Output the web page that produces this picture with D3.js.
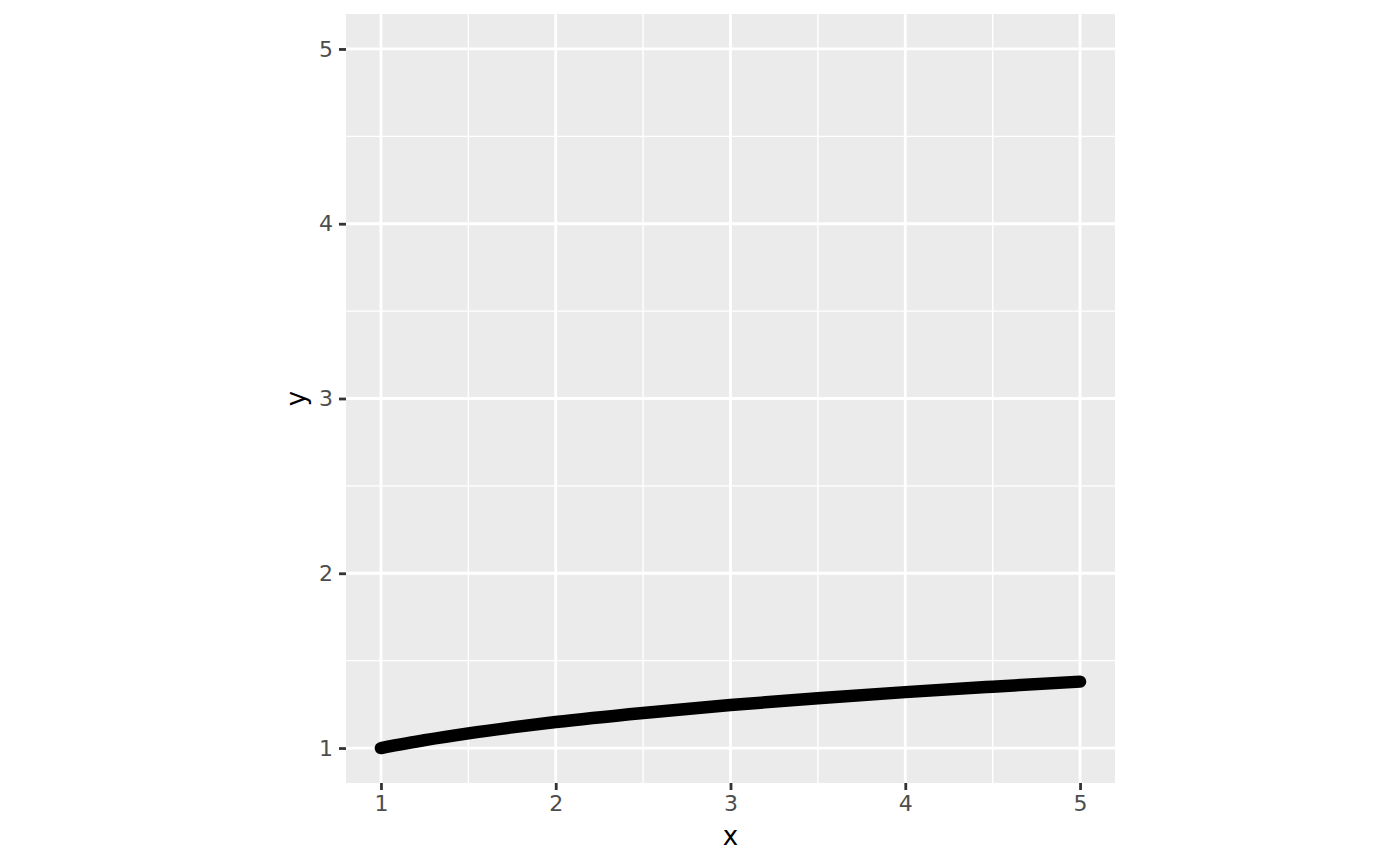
<!DOCTYPE html>
<html>
<head>
<meta charset="utf-8">
<script src="https://cdn.jsdelivr.net/npm/d3@7"></script>
<style>
  body { margin: 0; background: #fff; }
  text { font-family: "DejaVu Sans", sans-serif; }
</style>
</head>
<body>
<div id="chart"></div>
<script>
// values
let xValues = [1, 1.25, 1.5, 1.75, 2, 2.5, 3, 3.5, 4, 4.5, 5];
let yValues = [1.0, 1.045, 1.084, 1.118, 1.149, 1.201, 1.246, 1.285, 1.32, 1.351, 1.38];
let xTicks = [1, 2, 3, 4, 5];
let yTicks = [1, 2, 3, 4, 5];
let minorTicks = [1.5, 2.5, 3.5, 4.5];

let points = xValues.map(function(d, i) { return {x: d, y: yValues[i]}; });

let width = 1400, height = 866;
let panel = {left: 346, top: 14, right: 1115, bottom: 783};

let svg = d3.select("#chart").append("svg")
  .attr("width", width)
  .attr("height", height);

let x = d3.scaleLinear().domain([0.8, 5.2]).range([panel.left, panel.right]);
let y = d3.scaleLinear().domain([0.8, 5.2]).range([panel.bottom, panel.top]);

svg.append("rect")
  .attr("x", panel.left).attr("y", panel.top)
  .attr("width", panel.right - panel.left)
  .attr("height", panel.bottom - panel.top)
  .attr("fill", "#EBEBEB");

let grid = svg.append("g");
// minor grid
minorTicks.forEach(function(t) {
  grid.append("line").attr("x1", x(t)).attr("x2", x(t))
    .attr("y1", panel.top).attr("y2", panel.bottom)
    .attr("stroke", "#fff").attr("stroke-width", 1.4);
  grid.append("line").attr("y1", y(t)).attr("y2", y(t))
    .attr("x1", panel.left).attr("x2", panel.right)
    .attr("stroke", "#fff").attr("stroke-width", 1.4);
});
// major grid
xTicks.forEach(function(t) {
  grid.append("line").attr("x1", x(t)).attr("x2", x(t))
    .attr("y1", panel.top).attr("y2", panel.bottom)
    .attr("stroke", "#fff").attr("stroke-width", 2.8);
});
yTicks.forEach(function(t) {
  grid.append("line").attr("y1", y(t)).attr("y2", y(t))
    .attr("x1", panel.left).attr("x2", panel.right)
    .attr("stroke", "#fff").attr("stroke-width", 2.8);
});

let line = d3.line()
  .x(function(d) { return x(d.x); })
  .y(function(d) { return y(d.y); })
  .curve(d3.curveMonotoneX);

svg.append("path").attr("d", line(points))
  .attr("fill", "none")
  .attr("stroke", "#000")
  .attr("stroke-width", 12.5)
  .attr("stroke-linecap", "round")
  .attr("stroke-linejoin", "round");

// axes
let xAxis = svg.append("g")
  .attr("transform", "translate(0," + panel.bottom + ")")
  .call(d3.axisBottom(x).tickValues(xTicks).tickSize(7).tickPadding(5).tickFormat(d3.format("d")));
let yAxis = svg.append("g")
  .attr("transform", "translate(" + panel.left + ",0)")
  .call(d3.axisLeft(y).tickValues(yTicks).tickSize(7).tickPadding(6).tickFormat(d3.format("d")));

[xAxis, yAxis].forEach(function(a) {
  a.attr("font-size", 22).attr("font-family", "DejaVu Sans, sans-serif");
  a.select(".domain").remove();
  a.selectAll(".tick line").attr("stroke", "#333333").attr("stroke-width", 2.8);
  a.selectAll(".tick text").attr("fill", "#4D4D4D");
});

svg.append("text")
  .attr("x", (panel.left + panel.right) / 2)
  .attr("y", 845)
  .attr("text-anchor", "middle")
  .attr("font-size", 26)
  .text("x");

svg.append("text")
  .attr("transform", "translate(305," + (panel.top + panel.bottom) / 2 + ") rotate(-90)")
  .attr("text-anchor", "middle")
  .attr("font-size", 26)
  .text("y");
</script>
</body>
</html>
